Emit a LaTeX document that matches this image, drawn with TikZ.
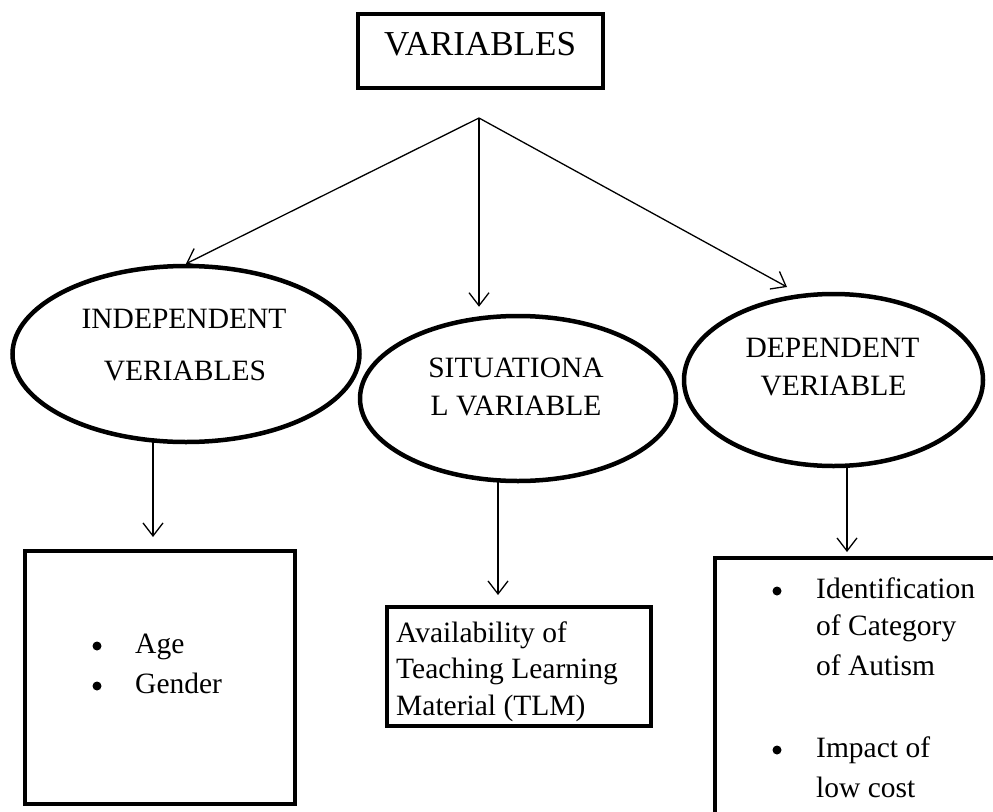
\documentclass[tikz,border=0pt]{standalone}
\usepackage{fontspec}
\setmainfont{Liberation Serif}
\usetikzlibrary{shapes.geometric,arrows.meta}
\begin{document}
\begin{tikzpicture}[x=1pt,y=-1pt,
  thickbox/.style={draw,line width=4pt,inner sep=0pt},
  oval/.style={draw,ellipse,line width=4.5pt,inner sep=0pt},
  arr/.style={line width=1.3pt,-{Straight Barb[length=13pt,width=20pt,line width=1.3pt]}},
  txt/.style={font=\fontsize{29.5}{36}\selectfont,inner sep=0pt},
  bigtxt/.style={font=\fontsize{35}{40}\selectfont,inner sep=0pt},
  dot/.style={circle,fill,inner sep=0pt,minimum size=9pt},
]
\useasboundingbox (0,0) rectangle (993,811);
\clip (0,0) rectangle (993,811);

% top box
\node[thickbox, minimum width=245pt, minimum height=74pt] (var) at (480.5,51) {};
\node[bigtxt, anchor=base] (vart) at (480,55) {VARIABLES};

% ellipses
\node[oval, minimum width=347pt, minimum height=176pt] (ind) at (186,354) {};
\node[oval, minimum width=316pt, minimum height=165pt] (sit) at (518,398.5) {};
\node[oval, minimum width=299pt, minimum height=172pt] (dep) at (833.5,380) {};

\node[txt, anchor=base] (ind1) at (184,328) {INDEPENDENT};
\node[txt, anchor=base] (ind2) at (185,380) {VERIABLES};
\node[txt, anchor=base] (sit1) at (516,377) {SITUATIONA};
\node[txt, anchor=base] (sit2) at (516,415) {L VARIABLE};
\node[txt, anchor=base] (dep1) at (832.5,357) {DEPENDENT};
\node[txt, anchor=base] (dep2) at (833.5,395) {VERIABLE};

% bottom boxes
\node[thickbox, minimum width=270pt, minimum height=253pt] (indbox) at (160,677.5) {};
\node[thickbox, minimum width=264pt, minimum height=119pt] (sitbox) at (519,666.5) {};
\node[thickbox, minimum width=400pt, minimum height=300pt] (depbox) at (915,708) {};

% left box list
\node[dot] (lb1) at (97,646) {};
\node[txt, anchor=base west] (lt1) at (135,653) {Age};
\node[dot] (lb2) at (97,686) {};
\node[txt, anchor=base west] (lt2) at (135,693) {Gender};

% middle box text
\node[txt, anchor=base west] (mt1) at (396,642) {Availability of};
\node[txt, anchor=base west] (mt2) at (396,678) {Teaching Learning};
\node[txt, anchor=base west] (mt3) at (396,715) {Material (TLM)};

% right box list
\node[dot] (rb1) at (777,591) {};
\node[txt, anchor=base west] (rt1) at (816,598) {Identification};
\node[txt, anchor=base west] (rt2) at (816,635) {of Category};
\node[txt, anchor=base west] (rt3) at (816,675) {of Autism};
\node[dot] (rb2) at (777,750) {};
\node[txt, anchor=base west] (rt4) at (816,757) {Impact of};
\node[txt, anchor=base west] (rt5) at (816,797) {low cost};

% connectors
\coordinate (apex) at (479,118);
\coordinate (deptip) at (787,287);
\coordinate (a1) at (153,0);
\coordinate (a2) at (498,0);
\coordinate (a3) at (847,0);

\draw[arr] (apex) -- (ind.north);
\draw[arr, shorten >=7pt] (apex) -- (apex |- sit.north);
\draw[arr] (apex) -- (deptip);

\draw[arr, shorten <=-3pt, shorten >=12pt] (ind.south -| a1) -- (indbox.north -| a1);
\draw[arr, shorten <=-2pt, shorten >=10pt] (sit.south -| a2) -- (sitbox.north -| a2);
\draw[arr, shorten <=-2pt, shorten >=4pt] (dep.south -| a3) -- (depbox.north -| a3);
\end{tikzpicture}
\end{document}
